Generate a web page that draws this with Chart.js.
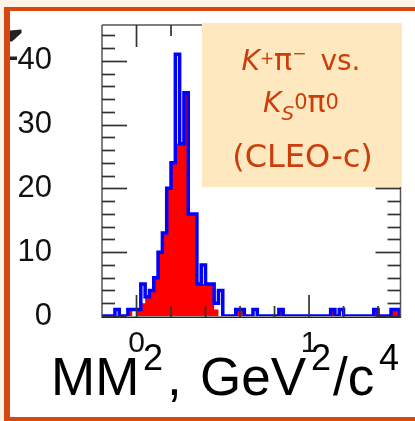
<!DOCTYPE html>
<html><head><meta charset="utf-8">
<script src="https://cdn.jsdelivr.net/npm/chart.js@4.4.1/dist/chart.umd.min.js"></script>
<style>html,body{margin:0;padding:0;background:#fdf4e6;}canvas{display:block;}</style>
</head><body>
<canvas id="c" width="415" height="421"></canvas>
<script>
// ---- data ----
const binStart = -0.2;          // GeV^2/c^4, left edge of first bin
const binWidth = 0.025;         // bin width
// blue outline histogram (all candidates)
const totalCounts = [
  0,0,0,1,0,0,1,1,1,5,
  3,4,6,10,13,20,24,41,27,35,
  16,16,5,8,5,5,2,4,0,0,
  0,1,1,0,0,1,0,0,0,0,
  0,1,0,0,0,0,0,0,0,0,
  0,0,0,1,0,1,0,0,0,0,
  0,0,0,1,0,0,0,1,1];
// red filled histogram
const signalCounts = [
  0,0,0,0,0,0,1,0,1,2,
  3,4,6,10,13,20,24,27,27,35,
  16,16,5,5,5,5,1,0,0,0,
  0,1,1,0,0,0,0,0,0,0,
  0,1,0,0,0,0,0,0,0,0,
  0,0,0,1,0,0,0,0,0,0,
  0,0,0,1,0,0,0,1,1];
const yTickLabels = [0, 10, 20, 30, 40];
const xTickLabels = [0, 1];
const xRange = [-0.2, 1.53];
const yRange = [0, 45.6];
const yMinorStep = 2;
const xMinorStep = 0.2;

function stepPoints(counts) {
  const pts = counts.map((v, k) => ({x: binStart + k * binWidth, y: v}));
  pts.push({x: binStart + counts.length * binWidth, y: 0});
  return pts;
}

const LABEL_FONT = '"Liberation Sans", Arial, sans-serif';
const BOX_FONT = '"DejaVu Sans", Verdana, sans-serif';
const BOX_COLOR = '#cc3d0a';

function drawRuns(ctx, runs, cx, baseY) {
  let w = 0;
  runs.forEach(r => { if (r.gap) { w += r.gap; return; } ctx.font = r.font; w += ctx.measureText(r.t).width; });
  let x = cx - w / 2;
  runs.forEach(r => {
    if (r.gap) { x += r.gap; return; }
    ctx.font = r.font;
    ctx.fillText(r.t, x, baseY + (r.dy || 0));
    x += ctx.measureText(r.t).width;
  });
}

const deco = {
  id: 'deco',
  beforeDraw(chart) {
    const ctx = chart.ctx;
    ctx.save();
    ctx.fillStyle = '#fdf4e6'; ctx.fillRect(0, 0, 415, 421);
    ctx.fillStyle = '#ffffff'; ctx.fillRect(10, 11, 405, 406);
    ctx.fillStyle = '#d6480f';
    ctx.fillRect(4, 7, 411, 4);
    ctx.fillRect(4, 7, 6, 414);
    ctx.fillRect(4, 417, 411, 4);
    ctx.restore();
  },
  afterDatasetsDraw(chart) {
    const {ctx, chartArea: a, scales: {x, y}} = chart;
    ctx.save();
    ctx.lineCap = 'butt';
    const seg = (x1, y1, x2, y2) => { ctx.beginPath(); ctx.moveTo(x1, y1); ctx.lineTo(x2, y2); ctx.stroke(); };
    // frame
    ctx.strokeStyle = '#555'; ctx.lineWidth = 1.5;
    seg(a.left, a.top, a.left, a.bottom + 2);
    seg(a.right, a.top, a.right, a.bottom + 2);
    seg(a.left, a.top, a.right, a.top);
    ctx.strokeStyle = '#222';
    seg(a.left, a.bottom + 1.3, a.right, a.bottom + 1.3);
    // y ticks (inward, both sides)
    ctx.strokeStyle = '#333'; ctx.lineWidth = 1.7;
    for (let v = yRange[0]; v <= yRange[1]; v += yMinorStep) {
      const py = Math.round(y.getPixelForValue(v)) + 0.5;
      const len = (v % 10 === 0) ? 25 : 13;
      seg(a.left, py, a.left + len, py);
      seg(a.right, py, a.right - len, py);
    }
    // x ticks (inward, bottom & top)
    for (let i = -1; ; i++) {
      const v = i * xMinorStep;
      if (v > xRange[1] + 1e-9) break;
      if (v < xRange[0] + 1e-9) continue;
      const px = x.getPixelForValue(v);
      const major = Math.abs(v - Math.round(v)) < 1e-9;
      const len = major ? 22 : 11;
      seg(px, a.bottom + 1, px, a.bottom + 1 - len);
      seg(px, a.top, px, a.top + len);
    }
    ctx.restore();
  },
  afterDraw(chart) {
    const ctx = chart.ctx;
    ctx.save();
    // annotation box
    ctx.fillStyle = '#fde8c0';
    ctx.fillRect(202, 23, 200, 164);
    ctx.fillStyle = BOX_COLOR;
    ctx.textBaseline = 'alphabetic';
    const cx = 301;
    drawRuns(ctx, [
      {t: 'K', font: 'italic 28px ' + BOX_FONT},
      {t: '+', font: '17px ' + BOX_FONT, dy: -6},
      {t: 'π', font: '30px ' + BOX_FONT},
      {t: '−', font: '17px ' + BOX_FONT, dy: -11},
      {gap: 14},
      {t: 'vs.', font: '28px ' + BOX_FONT}
    ], cx, 70);
    drawRuns(ctx, [
      {t: 'K', font: 'italic 28px ' + BOX_FONT},
      {t: 'S', font: 'italic 20px ' + BOX_FONT, dy: 8},
      {t: '0', font: '21px ' + BOX_FONT, dy: -3},
      {t: 'π', font: '30px ' + BOX_FONT},
      {t: '0', font: '21px ' + BOX_FONT, dy: -3}
    ], cx, 111.5);
    drawRuns(ctx, [
      {t: '(CLEO-c)', font: '32px ' + BOX_FONT}
    ], 302.5, 166.5);

    // x-axis title
    ctx.fillStyle = '#000';
    ctx.font = '53px ' + LABEL_FONT; ctx.fillText('MM', 51, 395);
    ctx.font = '36px ' + LABEL_FONT; ctx.fillText('2', 143, 370);
    ctx.font = '53px ' + LABEL_FONT; ctx.fillText(',', 167, 395);
    ctx.fillText('GeV', 200, 395);
    ctx.font = '36px ' + LABEL_FONT; ctx.fillText('2', 311, 370);
    ctx.font = '53px ' + LABEL_FONT; ctx.fillText('/c', 333, 395);
    ctx.font = '36px ' + LABEL_FONT; ctx.fillText('4', 379, 370);

    // cut-off fragments of the rotated y title at the left edge
    ctx.fillStyle = '#222';
    ctx.beginPath();
    ctx.moveTo(10, 30.5); ctx.lineTo(21.5, 29.5); ctx.lineTo(21.5, 33);
    ctx.lineTo(12, 41.5); ctx.lineTo(10, 41.5); ctx.closePath(); ctx.fill();
    ctx.fillRect(10, 56.5, 7, 3.5);
    ctx.restore();
  }
};

new Chart(document.getElementById('c'), {
  type: 'line',
  data: {
    datasets: [
      {
        label: 'total',
        data: stepPoints(totalCounts),
        stepped: true,
        borderColor: '#0000ff',
        borderWidth: 3.5,
        borderJoinStyle: 'miter',
        borderCapStyle: 'butt',
        fill: false,
        pointRadius: 0,
        tension: 0
      },
      {
        label: 'signal',
        data: stepPoints(signalCounts),
        stepped: true,
        borderWidth: 0,
        borderColor: 'rgba(0,0,0,0)',
        backgroundColor: '#ff0000',
        fill: 'origin',
        pointRadius: 0,
        tension: 0
      }
    ]
  },
  options: {
    responsive: false,
    animation: false,
    devicePixelRatio: 1,
    layout: {padding: {left: 0, right: 14.5, top: 25, bottom: 0}},
    plugins: {legend: {display: false}, tooltip: {enabled: false}},
    scales: {
      x: {
        type: 'linear', min: xRange[0], max: xRange[1],
        grid: {display: false, drawTicks: true, tickLength: 10},
        border: {display: false},
        ticks: {
          font: {family: LABEL_FONT, size: 30, lineHeight: 1},
          color: '#111', padding: 3, maxRotation: 0, autoSkip: false,
          callback: v => String(v)
        },
        afterBuildTicks: s => { s.ticks = xTickLabels.map(v => ({value: v})); },
        afterFit: s => { s.height = 105; }
      },
      y: {
        type: 'linear', min: yRange[0], max: yRange[1],
        grid: {display: false, drawTicks: true, tickLength: 47},
        border: {display: false},
        ticks: {
          font: {family: LABEL_FONT, size: 31, lineHeight: 1},
          color: '#111', padding: 3, autoSkip: false,
          callback: v => String(v)
        },
        afterBuildTicks: s => { s.ticks = yTickLabels.map(v => ({value: v})); },
        afterFit: s => { s.width = 102; }
      }
    }
  },
  plugins: [deco]
});
</script>
</body></html>
